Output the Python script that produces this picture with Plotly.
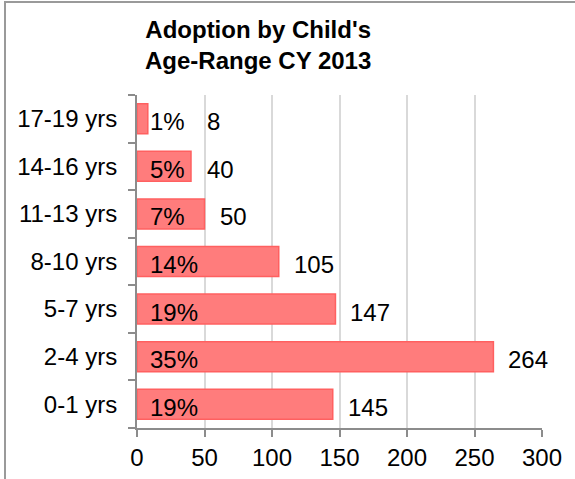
import plotly.graph_objects as go

categories = ["0-1 yrs", "2-4 yrs", "5-7 yrs", "8-10 yrs", "11-13 yrs", "14-16 yrs", "17-19 yrs"]
counts = [145, 264, 147, 105, 50, 40, 8]
percents = ["19%", "35%", "19%", "14%", "7%", "5%", "1%"]
x_ticks = [0, 50, 100, 150, 200, 250, 300]
title_text = "<b>Adoption by Child's<br>Age-Range CY 2013</b>"

W, H = 575, 479
L, R, T, B = 137, 33, 95, 51
plot_w = W - L - R
plot_h = H - T - B
px_per_unit = plot_w / 300.0

FONT = "Liberation Sans, Arial, sans-serif"
FS = 24


def px_x(px):
    return (px - L) / plot_w


def px_y(py):
    return (H - B - py) / plot_h


fig = go.Figure()
fig.add_trace(go.Bar(
    y=categories, x=counts, orientation="h",
    marker=dict(color="#FF7C7C", line=dict(color="#FF6060", width=1.5)),
    hoverinfo="skip",
))

annotations = []
for cat, v, p in zip(categories, counts, percents):
    annotations.append(dict(
        x=0, y=cat, xref="x", yref="y", text=p, showarrow=False,
        xanchor="left", xshift=11, yshift=-3,
        font=dict(family=FONT, size=FS, color="#000000")))
    shift = max(v * px_per_unit + 13, 68)
    annotations.append(dict(
        x=0, y=cat, xref="x", yref="y", text=str(v), showarrow=False,
        xanchor="left", xshift=shift, yshift=-3,
        font=dict(family=FONT, size=FS, color="#000000")))

annotations.append(dict(
    x=px_x(258), y=px_y(45), xref="paper", yref="paper",
    text=title_text, showarrow=False, xanchor="center", yanchor="middle",
    font=dict(family=FONT, size=FS, color="#000000")))

fig.update_layout(
    width=W, height=H,
    margin=dict(l=L, r=R, t=T, b=B, pad=0, autoexpand=False),
    paper_bgcolor="white", plot_bgcolor="white",
    bargap=0.37,
    showlegend=False,
    font=dict(family=FONT, size=FS, color="#000000"),
    xaxis=dict(
        range=[0, 300], tickvals=x_ticks, ticks="outside", ticklen=7,
        tickcolor="#8c8c8c", tickwidth=2,
        showline=True, linecolor="#8c8c8c", linewidth=2,
        showgrid=True, gridcolor="#d9d9d9", gridwidth=1.5,
        zeroline=False, tickfont=dict(family=FONT, size=FS),
        automargin=False, fixedrange=True,
    ),
    yaxis=dict(
        categoryorder="array", categoryarray=categories,
        ticks="outside", ticklen=7, tickson="boundaries",
        tickcolor="#8c8c8c", tickwidth=2,
        showline=True, linecolor="#8c8c8c", linewidth=2,
        showgrid=False, tickfont=dict(family=FONT, size=FS),
        ticklabelstandoff=13,
        automargin=False, fixedrange=True,
    ),
    annotations=annotations,
    shapes=[dict(
        type="rect", xref="paper", yref="paper",
        x0=px_x(5), x1=px_x(W + 20),
        y0=px_y(H + 20), y1=px_y(2),
        line=dict(color="#9a9a9a", width=2), fillcolor="rgba(0,0,0,0)",
        layer="below",
    )],
)

fig.write_html(
    "out.html",
    config={"displayModeBar": False},
    post_script="document.body.style.margin='0px';document.body.style.overflow='hidden';",
)
